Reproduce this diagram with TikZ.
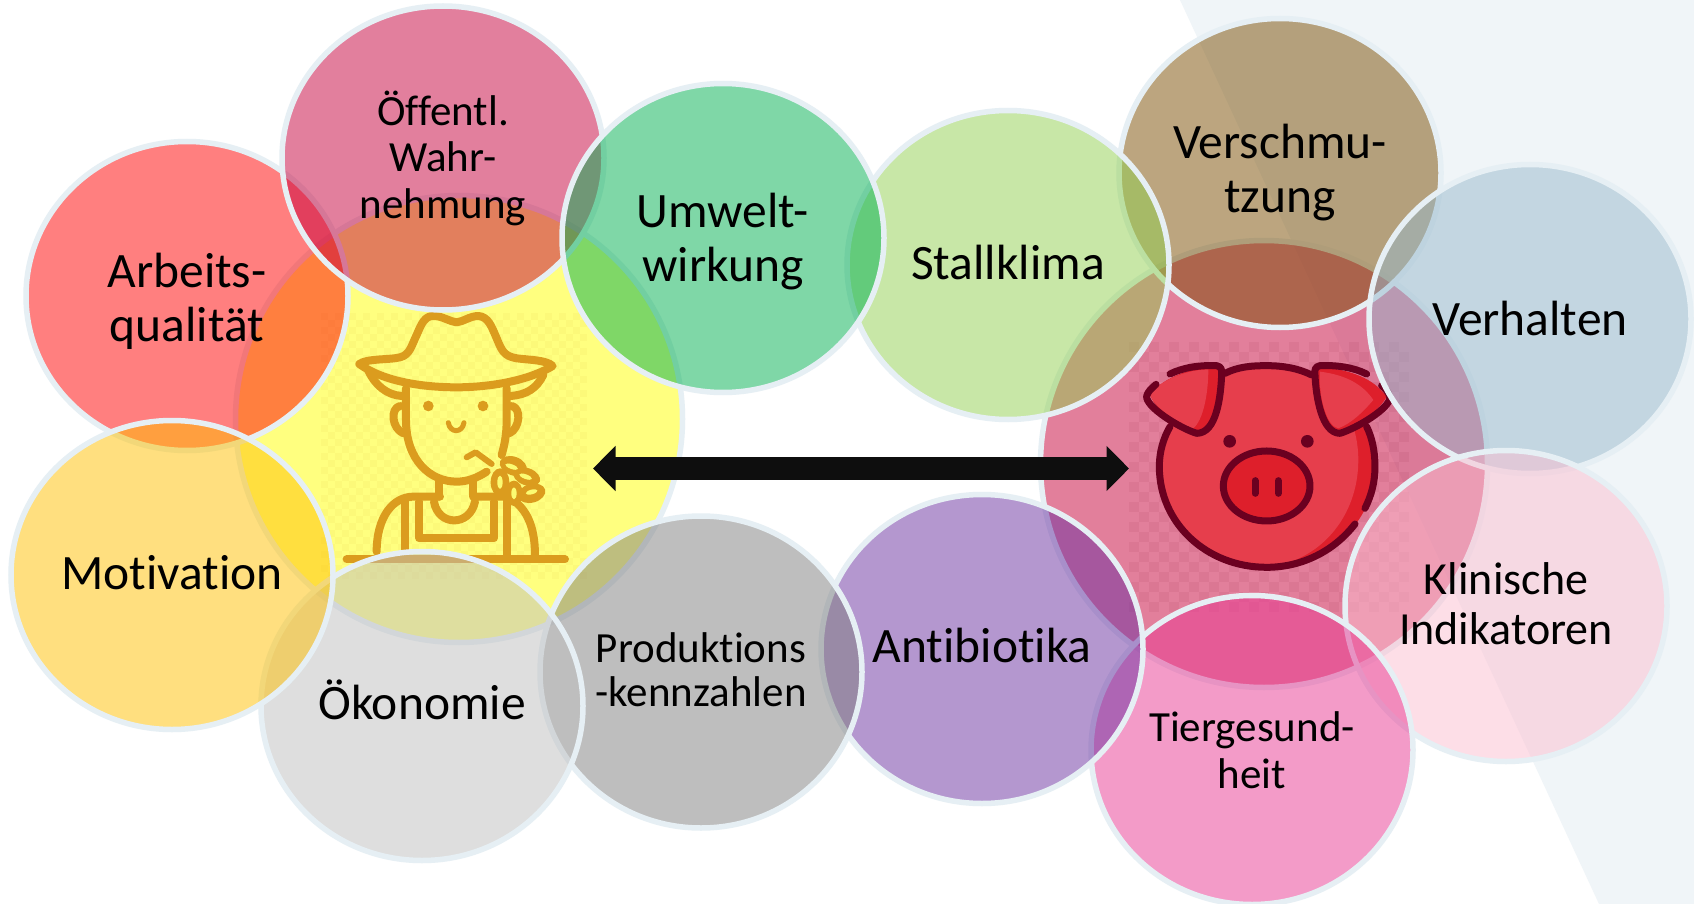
\documentclass[tikz,border=0pt]{standalone}
\usepackage{fontspec}
\setmainfont{Carlito}[Ligatures=NoCommon]
\usetikzlibrary{shapes.geometric,arrows.meta}
\definecolor{ringc}{HTML}{E6EFF4}
\definecolor{bgc}{HTML}{F0F5F8}
\definecolor{farm}{HTML}{DB9C1E}
\definecolor{hole}{HTML}{FBFB72}
\definecolor{pigd}{HTML}{6B0020}
\definecolor{pigf}{HTML}{E63E4C}
\definecolor{pigs}{HTML}{DE1F2B}
\newcommand{\uph}[1]{\rule{0pt}{#1}}
\newcommand{\dep}[1]{\rule[-#1]{0pt}{0pt}}
\tikzset{
 bub/.style={ellipse,draw=ringc,line width=5.5pt,minimum width=322pt,minimum height=309pt,inner sep=0pt,
   fill opacity=0.5,text opacity=1,align=center,text=black,font=\fontsize{49.5}{54}\selectfont},
 bubm/.style={bub,font=\fontsize{46}{50}\selectfont},
 bubs/.style={bub,font=\fontsize{43}{46.5}\selectfont},
 big/.style={ellipse,draw=ringc,line width=5.5pt,minimum width=447pt,minimum height=447pt,inner sep=0pt,fill opacity=0.5},
 fl/.style={draw=farm,line width=8pt,line cap=round,line join=round},
 pl/.style={draw=pigd,line width=7pt,line cap=round,line join=round},
}
\begin{document}
\begin{tikzpicture}[x=1pt,y=-1pt]
\useasboundingbox (0,0) rectangle (1694,904);
\fill[white] (0,0) rectangle (1694,904);
\fill[bgc] (1180,0) -- (1694,0) -- (1694,904) -- (1599,904) -- cycle;
\node[big,fill={rgb,255:red,255;green,255;blue,0}] (yellow) at (459,419) {};
\node[big,fill={rgb,255:red,199;green,0;blue,57}] (pink) at (1264,464) {};
% checker patches
\begin{scope}
\foreach \i in {0,...,37}{\foreach \j in {0,...,37}{
 \pgfmathparse{int(mod(\i+\j,2))}
 \ifnum\pgfmathresult=0 \fill[farm,opacity=0.06] ({321+\i*7},{313+\j*7}) rectangle ++(7,7);\fi}}
\end{scope}
\begin{scope}
\foreach \i in {0,...,27}{\foreach \j in {0,...,26}{
 \pgfmathparse{int(mod(\i+\j,2))}
 \ifnum\pgfmathresult=0 \fill[pigd,opacity=0.06] ({1129+\i*10},{342+\j*10}) rectangle ++(10,10);\fi}}
\end{scope}
% farmer
\begin{scope}[shift={(300,280)},x=0.3333pt,y=-0.3333pt]
\path[fl] (178,252) .. controls (200,235) and (270,240) .. (300,232) .. controls (330,225) and (335,195) .. (350,165) .. controls (365,130) and (375,105) .. (405,108) .. controls (430,110) and (450,125) .. (470,127) .. controls (490,125) and (510,108) .. (535,108) .. controls (565,110) and (575,140) .. (590,175) .. controls (605,210) and (610,228) .. (650,235) .. controls (690,240) and (740,240) .. (758,258) .. controls (680,305) and (560,322) .. (470,322) .. controls (370,322) and (250,305) .. (178,252) -- cycle;
\path[fl] (205,272) .. controls (225,315) and (260,345) .. (305,348);
\path[fl] (730,285) .. controls (710,325) and (680,345) .. (630,348);
\path[fl] (318,325) -- (318,420) .. controls (318,540) and (390,605) .. (470,605) .. controls (500,605) and (530,595) .. (560,575);
\path[fl] (620,325) -- (620,420) .. controls (620,460) and (615,490) .. (605,525);
\path[fl] (300,378) .. controls (270,385) and (275,445) .. (310,460);
\path[fl] (636,378) .. controls (665,385) and (660,445) .. (628,460);
\fill[farm] (385,378) circle (16);
\fill[farm] (549,378) circle (16);
\path[fl,line width=5pt] (445,428) .. controls (450,460) and (487,460) .. (492,428);
\path[fl,line width=6pt] (500,532) -- (527,517) -- (575,552);
\path[fl] (418,605) -- (418,650);
\path[fl] (520,600) -- (520,650);
\path[fl] (230,815) .. controls (230,710) and (280,650) .. (340,650) -- (420,650);
\path[fl] (402,665) .. controls (415,740) and (510,740) .. (525,665);
\path[fl] (315,665) -- (315,830);
\path[fl] (358,665) -- (358,775) -- (582,775) -- (582,665);
\path[fl] (622,650) -- (622,830);
\path[fl] (530,650) -- (622,650) .. controls (680,680) and (705,740) .. (705,825);
\path[fl] (140,838) -- (795,838);
\fill[farm,rotate around={-20:(640,558)}] (640,558) ellipse [x radius=42,y radius=28];
\fill[farm,rotate around={-20:(680,590)}] (680,590) ellipse [x radius=42,y radius=26];
\fill[farm] (600,607) ellipse [x radius=28,y radius=42];
\fill[farm] (642,640) ellipse [x radius=26,y radius=38];
\fill[farm,rotate around={15:(695,640)}] (695,640) ellipse [x radius=42,y radius=28];
\fill[hole,rotate around={-20:(635,560)}] (635,560) ellipse [x radius=20,y radius=7];
\fill[hole,rotate around={-20:(677,590)}] (677,590) ellipse [x radius=20,y radius=7];
\fill[hole] (600,607) ellipse [x radius=8,y radius=20];
\fill[hole] (642,640) ellipse [x radius=8,y radius=18];
\fill[hole,rotate around={15:(695,636)}] (695,636) ellipse [x radius=18,y radius=7];
\end{scope}
% pig
\begin{scope}[shift={(1100,320)},x=0.3333pt,y=-0.3333pt]
\fill[pigs] (500,440) ellipse [x radius=325,y radius=303];
\fill[pigf] (175,440) .. controls (175,270) and (320,137) .. (500,137) .. controls (690,137) and (775,280) .. (775,420) .. controls (775,590) and (660,725) .. (500,742) .. controls (320,742) and (175,610) .. (175,440) -- cycle;
\path[pl] (210,320) .. controls (190,355) and (178,395) .. (178,440) .. controls (178,610) and (320,742) .. (500,742) .. controls (610,742) and (705,690) .. (765,612);
\path[pl] (795,565) .. controls (815,525) and (825,485) .. (825,440) .. controls (825,390) and (815,350) .. (800,320);
\path[pl] (375,160) .. controls (415,140) and (455,137) .. (500,137) .. controls (550,137) and (595,145) .. (635,165);
\fill[pigs] (150,225) .. controls (175,185) and (260,140) .. (355,140) .. controls (370,210) and (345,340) .. (290,340) .. controls (240,325) and (170,275) .. (150,225) -- cycle;
\fill[pigf] (150,225) .. controls (175,185) and (250,150) .. (325,148) .. controls (325,220) and (310,300) .. (280,325) .. controls (235,310) and (170,270) .. (150,225) -- cycle;
\path[pl] (210,162) .. controls (250,142) and (300,135) .. (350,137) .. controls (365,140) and (366,150) .. (365,165) .. controls (362,230) and (350,340) .. (290,340) .. controls (240,325) and (135,260) .. (140,228) .. controls (143,215) and (155,205) .. (168,193);
\fill[pigs] (860,230) .. controls (830,190) and (780,150) .. (650,140) .. controls (640,230) and (670,340) .. (720,340) .. controls (770,325) and (840,270) .. (860,230) -- cycle;
\fill[pigf] (820,240) .. controls (790,195) and (740,165) .. (660,155) .. controls (655,230) and (680,320) .. (715,325) .. controls (755,310) and (790,275) .. (820,240) -- cycle;
\path[pl] (800,162) .. controls (760,142) and (710,135) .. (660,137) .. controls (645,140) and (643,150) .. (645,165) .. controls (648,230) and (665,340) .. (720,340) .. controls (770,325) and (870,265) .. (870,232);
\path[pl] (870,232) .. controls (865,215) and (855,205) .. (845,197);
\fill[pigd] (389,364) circle (19);
\fill[pigd] (622,364) circle (19);
\path[pl,fill=pigs] (500,498) ellipse [x radius=130,y radius=105];
\path[pl] (465,482) -- (465,520);
\path[pl] (535,482) -- (535,520);
\end{scope}
% arrow
\coordinate (al) at (593,468.5);
\coordinate (ar) at (1129,468.5);
\draw[color={rgb,255:red,14;green,14;blue,14},line width=23.5pt,{Triangle[length=22.5pt,width=44pt]}-{Triangle[length=22.5pt,width=44pt]}] (al) -- (ar);
% bubbles
\node[bub,fill={rgb,255:red,255;green,0;blue,0}] (arb) at (187,296) {\uph{45pt}Arbeits-\\qualität};
\node[bubs,minimum height=304pt,fill={rgb,255:red,199;green,0;blue,60}] (oef) at (443,158) {Öffentl.\\Wahr-\\nehmung};
\node[bub,fill={rgb,255:red,122;green,77;blue,1}] (ver) at (1280,173) {Verschmu-\\tzung};
\node[bub,fill={rgb,255:red,146;green,208;blue,80}] (sta) at (1008,265) {Stallklima\dep{4.5pt}};
\node[bub,fill={rgb,255:red,0;green,176;blue,80}] (umw) at (723,238) {\uph{42.5pt}Umwelt-\\wirkung};
\node[bub,fill={rgb,255:red,152;green,185;blue,204}] (vha) at (1530,319) {Verhalten\dep{2pt}};
\node[bubm,minimum height=311pt,fill={rgb,255:red,252;green,190;blue,208}] (kli) at (1506,606) {Klinische\\Indikatoren\dep{4.5pt}};
\node[bubs,fill={rgb,255:red,233;green,57;blue,147}] (tie) at (1252,750) {Tiergesund-\\heit};
\node[bub,fill={rgb,255:red,107;green,49;blue,161}] (ant) at (982,649) {Antibiotika\dep{7pt}};
\node[bubs,minimum height=312pt,fill={rgb,255:red,127;green,127;blue,127},font=\fontsize{43}{44}\selectfont] (pro) at (701,672) {Produktions\\-kennzahlen\dep{4.5pt}};
\node[bub,fill={rgb,255:red,191;green,191;blue,191}] (oek) at (422,706) {Ökonomie\dep{13pt}};
\node[bub,fill={rgb,255:red,255;green,192;blue,0}] (mot) at (172,575) {Motivation\dep{4.5pt}};
\end{tikzpicture}
\end{document}
